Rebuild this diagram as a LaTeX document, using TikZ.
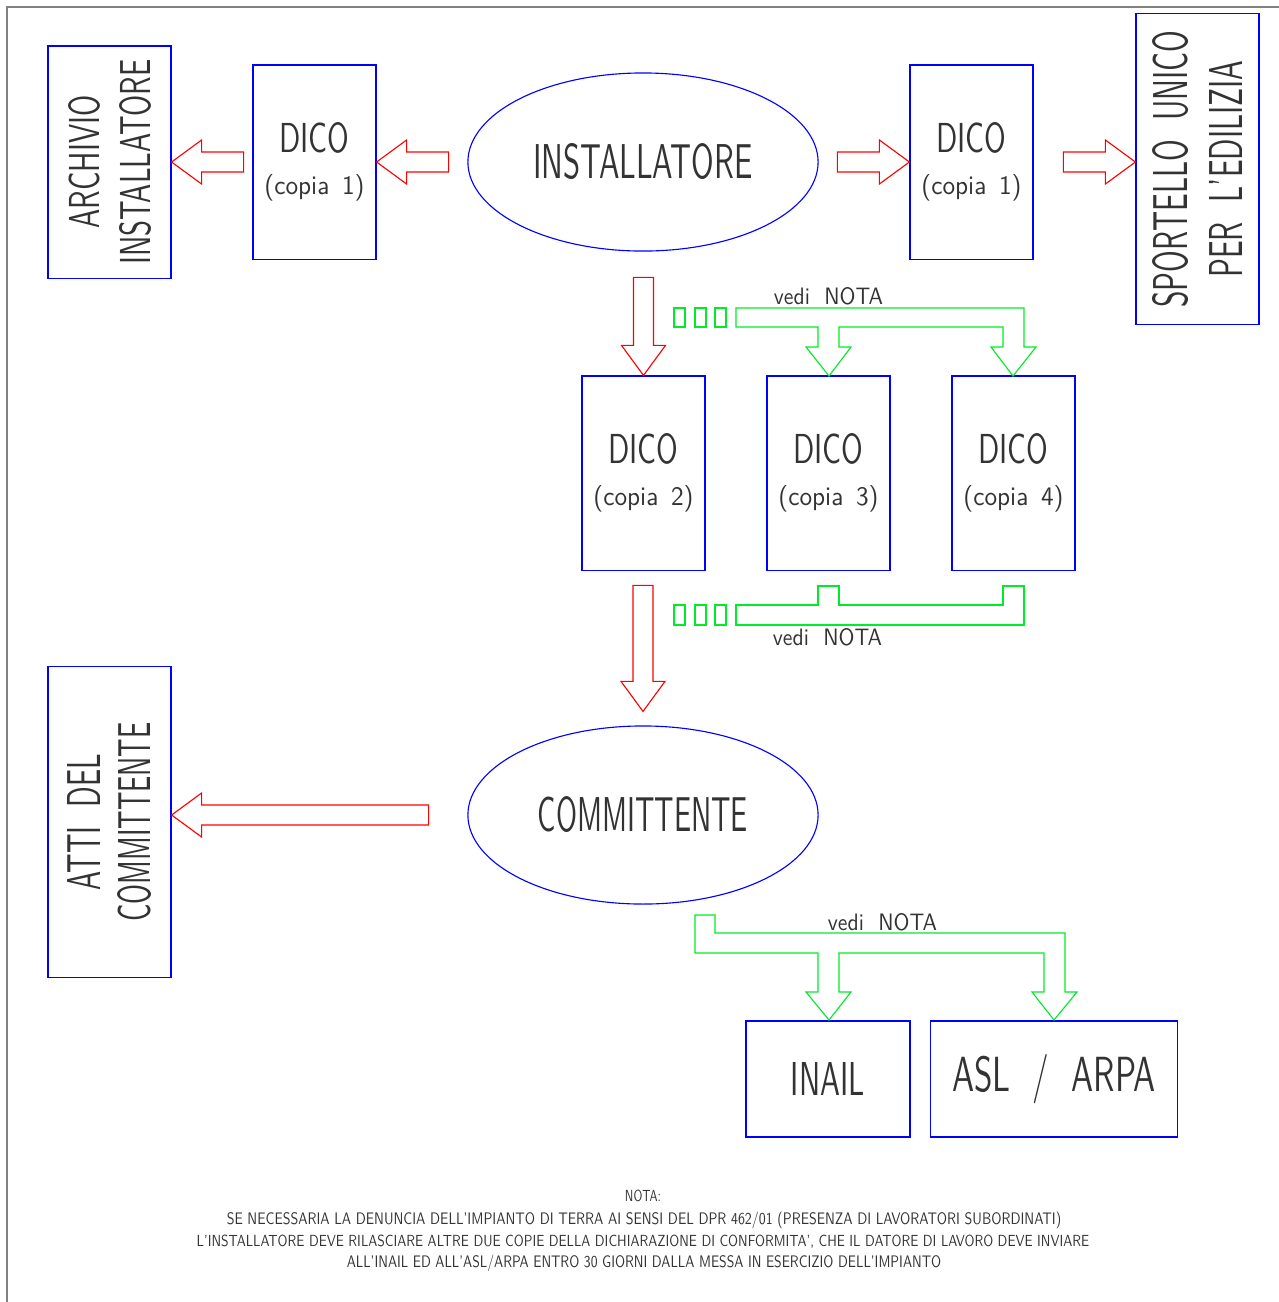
\documentclass[tikz,border=0pt]{standalone}
\usepackage{graphicx}
\usetikzlibrary{shapes.geometric,calc}
\definecolor{cadblue}{RGB}{0,0,255}
\definecolor{cadred}{RGB}{255,0,0}
\definecolor{cadgreen}{RGB}{0,235,40}
\newcommand{\cad}[3]{\resizebox{#1}{#2}{#3}}

\begin{document}
\begin{tikzpicture}[x=0.01cm,y=-0.01cm,line width=0.32pt,
  every node/.style={font=\sffamily,text=black!80,inner sep=0pt},
  dicobox/.style={draw=cadblue,minimum width=1.23cm,minimum height=1.94cm,align=center},
  sidebox/.style={draw=cadblue,rotate=90,minimum height=1.23cm,align=center},
  endbox/.style={draw=cadblue,minimum height=1.16cm},
  actor/.style={ellipse,draw=cadblue,minimum width=3.5cm,minimum height=1.78cm},
  gr/.style={draw=cadgreen},
  pics/redarr/.style={code={
    \draw[cadred] (0,0) -- (-30,22) -- (-30,10) -- (-#1,10) -- (-#1,-10)
      -- (-30,-10) -- (-30,-22) -- cycle;}}]
\useasboundingbox (0,0) rectangle (1279,1302);
\draw[gray,line width=0.6pt] (7,1302) -- (7,7) -- (1279,7);

\node[actor] (inst) at (643,162) {\cad{2.19cm}{0.35cm}{INSTALLATORE}};
\node[actor] (comm) at (643,815) {\cad{2.10cm}{0.35cm}{COMMITTENTE}};

\node[sidebox,minimum width=2.32cm] (archivio) at (109.5,162)
  {\cad{1.33cm}{0.31cm}{ARCHIVIO}\\[2.5pt]\cad{2.05cm}{0.31cm}{INSTALLATORE}};
\node[sidebox,minimum width=3.10cm] (spor) at (1197.5,169)
  {\cad{2.77cm}{0.35cm}{SPORTELLO\ \ UNICO}\\[3.6pt]\cad{2.17cm}{0.33cm}{PER\ \ L'EDILIZIA}};
\node[sidebox,minimum width=3.10cm] (atti) at (109.5,822)
  {\cad{1.36cm}{0.33cm}{ATTI\ \ DEL}\\[2.2pt]\cad{1.99cm}{0.33cm}{COMMITTENTE}};

\node[dicobox] (dicoA) at (314.5,162) {\cad{0.7cm}{0.3cm}{DICO}\\\cad{1cm}{0.2cm}{(copia\enspace1)}};
\node[dicobox] (dicoB) at (971.5,162) {\cad{0.7cm}{0.3cm}{DICO}\\\cad{1cm}{0.2cm}{(copia\enspace1)}};
\node[dicobox] (dicoC) at (643.5,473) {\cad{0.7cm}{0.3cm}{DICO}\\\cad{1cm}{0.2cm}{(copia\enspace2)}};
\node[dicobox] (dicoD) at (828.5,473) {\cad{0.7cm}{0.3cm}{DICO}\\\cad{1cm}{0.2cm}{(copia\enspace3)}};
\node[dicobox] (dicoE) at (1013.5,473) {\cad{0.7cm}{0.3cm}{DICO}\\\cad{1cm}{0.2cm}{(copia\enspace4)}};

\node[endbox,minimum width=1.64cm] (inail) at (828,1079) {\cad{0.74cm}{0.33cm}{INAIL}};
\node[endbox,minimum width=2.46cm] (asl) at (1054,1079) {\cad{2.03cm}{0.37cm}{ASL\ \ /\ \ ARPA}};

\pic[rotate=180] at (archivio.south) {redarr=72};
\pic[rotate=180] at (dicoA.east) {redarr=72};
\pic at (dicoB.west) {redarr=72};
\pic at (spor.north |- dicoB.west) {redarr=72};
\pic[rotate=-90] at (dicoC.north) {redarr=98};
\pic[rotate=-90] at ($(comm.north)+(0,-14)$) {redarr=126};
\pic[rotate=180] at (atti.south |- comm.west) {redarr=257};

\foreach \x in {674,695,715} {
  \draw[gr] (\x,308) rectangle ++(11,19);
  \draw[gr] (\x,605) rectangle ++(11,20);
}
\draw[gr] (736,308) -- (1024,308) -- (1024,347) -- (1036,347) -- (1013,376) -- (991,347)
  -- (1003,347) -- (1003,327) -- (839,327) -- (839,347) -- (851,347) -- (829,376)
  -- (806,347) -- (818,347) -- (818,327) -- (736,327) -- cycle;
\draw[gr] (736,605) -- (818,605) -- (818,586) -- (839,586) -- (839,605) -- (1003,605)
  -- (1003,586) -- (1024,586) -- (1024,625) -- (736,625) -- cycle;
\draw[gr] (695,915) -- (715,915) -- (715,933) -- (1065,933) -- (1065,992) -- (1077,992)
  -- (1054,1020) -- (1032,992) -- (1044,992) -- (1044,953) -- (839,953) -- (839,992)
  -- (851,992) -- (829,1020) -- (806,992) -- (818,992) -- (818,953) -- (695,953) -- cycle;

\node[anchor=base] (vediA) at (828.5,304) {\cad{1.09cm}{0.17cm}{vedi\ \ NOTA}};
\node[anchor=base] (vediB) at (827.5,645) {\cad{1.09cm}{0.17cm}{vedi\ \ NOTA}};
\node[anchor=base] (vediC) at (882.5,930) {\cad{1.09cm}{0.17cm}{vedi\ \ NOTA}};

\node[anchor=base] (nota) at (643,1201) {\cad{0.36cm}{0.115cm}{NOTA:}};
\node[anchor=base] (notaA) at (644,1224) {\cad{8.34cm}{0.125cm}{SE NECESSARIA LA DENUNCIA DELL'IMPIANTO DI TERRA AI SENSI DEL DPR 462/01 (PRESENZA DI LAVORATORI SUBORDINATI)}};
\node[anchor=base] (notaB) at (643,1246) {\cad{8.92cm}{0.115cm}{L'INSTALLATORE DEVE RILASCIARE ALTRE DUE COPIE DELLA DICHIARAZIONE DI CONFORMITA', CHE IL DATORE DI LAVORO DEVE INVIARE}};
\node[anchor=base] (notaC) at (644,1267) {\cad{5.94cm}{0.125cm}{ALL'INAIL ED ALL'ASL/ARPA ENTRO 30 GIORNI DALLA MESSA IN ESERCIZIO DELL'IMPIANTO}};
\end{tikzpicture}
\end{document}
